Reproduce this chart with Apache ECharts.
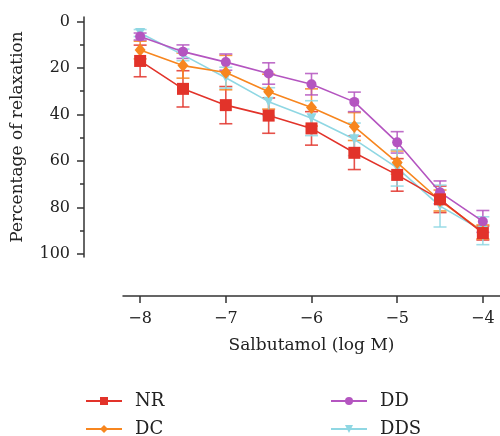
<!DOCTYPE html>
<html>
<head>
<meta charset="utf-8">
<script src="https://cdn.jsdelivr.net/npm/echarts@6/dist/echarts.min.js"></script>
<style>html,body{margin:0;padding:0;background:#fff}#c{width:500px;height:436px}</style>
</head>
<body>
<div id="c"></div>
<script>
const xValues = [-8, -7.5, -7, -6.5, -6, -5.5, -5, -4.5, -4];
const xTicks = [-8, -7, -6, -5, -4];
const yTicks = [0, 20, 40, 60, 80, 100];
const yMinorTicks = [10, 30, 50, 70, 90];

const NR = [17, 29, 36, 40.5, 46, 56.5, 66, 76.5, 91];
const NR_err = [6.8, 7.8, 8, 7.6, 7.2, 7.2, 7, 5.7, 3];
const DC = [12.3, 19, 22, 30.2, 37, 45.2, 60.7, 77, 90.5];
const DC_err = [3.8, 5.4, 7.4, 7.5, 8, 6, 5, 4.5, 3];
const DD = [6.5, 13, 17.5, 22.4, 27, 34.6, 52, 73.5, 86];
const DD_err = [1.5, 2.9, 3.5, 4.6, 4.6, 4.2, 4.6, 4.9, 4.7];
const DDS = [5, 14.4, 24.2, 34.5, 41.6, 50.7, 63, 79.4, 90];
const DDS_err = [1.5, 2.5, 4.5, 6, 7.5, 7, 7.8, 9, 6];

const FONT = 'DejaVu Serif';
const seriesDefs = [
  {name: 'NR', data: NR, err: NR_err, color: '#e2332a', symbol: 'rect', size: 12, rotate: 0, z: 8},
  {name: 'DC', data: DC, err: DC_err, color: '#f7861f', symbol: 'diamond', size: [11, 13], rotate: 0, z: 7},
  {name: 'DD', data: DD, err: DD_err, color: '#b455c0', symbol: 'circle', size: 10, rotate: 0, z: 6},
  {name: 'DDS', data: DDS, err: DDS_err, color: '#8fd7e3', symbol: 'triangle', size: 10, rotate: 180, z: 5}
];

const series = [];
seriesDefs.forEach(d => {
  series.push({
    type: 'custom',
    name: d.name + '_err',
    xAxisIndex: 0, yAxisIndex: 0,
    z: 2,
    silent: true,
    data: xValues.map((x, i) => [x, d.data[i] - d.err[i], d.data[i] + d.err[i]]),
    renderItem: function (params, api) {
      const x = api.value(0);
      const p1 = api.coord([x, api.value(1)]);
      const p2 = api.coord([x, api.value(2)]);
      const w = 6.5;
      const st = {stroke: d.color, lineWidth: 1.6, opacity: 0.85};
      return {type: 'group', children: [
        {type: 'line', shape: {x1: p1[0], y1: p1[1], x2: p2[0], y2: p2[1]}, style: st},
        {type: 'line', shape: {x1: p1[0] - w, y1: p1[1], x2: p1[0] + w, y2: p1[1]}, style: st},
        {type: 'line', shape: {x1: p2[0] - w, y1: p2[1], x2: p2[0] + w, y2: p2[1]}, style: st}
      ]};
    }
  });
});
seriesDefs.forEach(d => {
  series.push({
    type: 'line',
    name: d.name,
    xAxisIndex: 0, yAxisIndex: 0,
    z: d.z,
    data: xValues.map((x, i) => [x, d.data[i]]),
    symbol: d.symbol,
    symbolSize: d.size,
    symbolRotate: d.rotate,
    itemStyle: {color: d.color, opacity: 1},
    lineStyle: {color: d.color, width: 1.6},
    showSymbol: true
  });
});

function legendAt(name, left, top) {
  return {
    left: left, top: top, data: [name],
    itemWidth: 36, itemHeight: 10,
    textStyle: {fontFamily: FONT, fontSize: 18, color: '#222', padding: [0, 0, 0, 8]}
  };
}

const option = {
  animation: false,
  backgroundColor: '#fff',
  grid: {left: 123, top: 17, width: 380, height: 240, containLabel: false},
  xAxis: {
    type: 'value', min: -8.2, max: -3.8, position: 'bottom', offset: 39,
    splitLine: {show: false},
    axisLine: {show: true, onZero: false, lineStyle: {color: '#333', width: 1.5}},
    axisTick: {show: true, length: 7, customValues: xTicks, lineStyle: {color: '#333', width: 1.5}},
    axisLabel: {customValues: xTicks, margin: 15, fontFamily: FONT, fontSize: 16, color: '#222',
      formatter: v => (v < 0 ? '\u2212' : '') + Math.abs(v)},
    name: 'Salbutamol (log M)', nameLocation: 'middle', nameGap: 41,
    nameTextStyle: {fontFamily: FONT, fontSize: 17, color: '#222'}
  },
  yAxis: [{
    type: 'value', inverse: true, min: -1.9, max: 101.3, position: 'left', offset: 39,
    splitLine: {show: false},
    axisLine: {show: true, onZero: false, lineStyle: {color: '#333', width: 1.5}},
    axisTick: {show: true, length: 7, customValues: yTicks, lineStyle: {color: '#333', width: 1.5}},
    axisLabel: {customValues: yTicks, margin: 14, fontFamily: FONT, fontSize: 16, color: '#222'},
    name: 'Percentage of relaxation', nameLocation: 'middle', nameGap: 58,
    nameTextStyle: {fontFamily: FONT, fontSize: 17, color: '#222'}
  }, {
    type: 'value', inverse: true, min: -1.9, max: 101.3, position: 'left', offset: 39,
    splitLine: {show: false},
    axisLine: {show: false},
    axisTick: {show: true, length: 4, customValues: yMinorTicks, lineStyle: {color: '#333', width: 1.5}},
    axisLabel: {show: false}
  }],
  legend: [
    legendAt('NR', 80, 387),
    legendAt('DC', 80, 415),
    legendAt('DD', 325, 387),
    legendAt('DDS', 325, 415)
  ],
  series: series
};

const chart = echarts.init(document.getElementById('c'), null, {renderer: 'canvas'});
chart.setOption(option);
</script>
</body>
</html>
